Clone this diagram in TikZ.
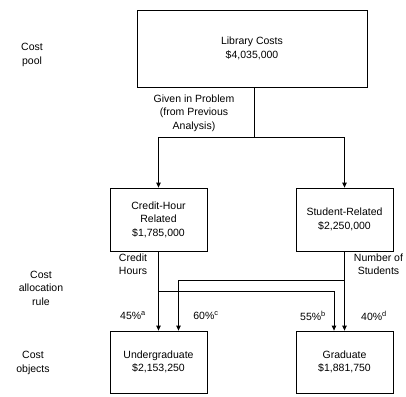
\documentclass[tikz,border=0pt]{standalone}
\usepackage{fontspec}
\setmainfont{Liberation Sans}
\usetikzlibrary{arrows.meta}
\begin{document}
\begin{tikzpicture}[x=1pt,y=-1pt,
        costbox/.style={draw,align=center,inner sep=0pt},
        lbl/.style={align=center,inner sep=0pt},
        arr/.style={-{Triangle[width=4.5pt,length=5pt]}},
        font=\fontsize{10.5}{13.5}\selectfont, line width=0.8pt]
        \useasboundingbox (0,0) rectangle (406,396);
        % Boxes
        \node[costbox,minimum width=230pt,minimum height=77pt] (lib) at (252,48.5) {Library Costs\\\$4,035,000};
        \node[costbox,minimum width=97pt,minimum height=63pt] (credit) at (158.5,219.5) {Credit-Hour\\Related\\\$1,785,000};
        \node[costbox,minimum width=97pt,minimum height=63pt] (student) at (344.5,219.5) {Student-Related\\\$2,250,000};
        \node[costbox,minimum width=97pt,minimum height=62pt] (under) at (158.5,362) {Undergraduate\\\$2,153,250};
        \node[costbox,minimum width=97pt,minimum height=62pt] (grad) at (344.5,362) {Graduate\\\$1,881,750};
        % Labels on the left
        \node[lbl] (pool) at (32,55) {Cost\\pool};
        \node[lbl] (rule) at (41,288) {Cost\\allocation\\rule};
        \node[lbl] (objects) at (33,363) {Cost\\objects};
        % Labels between lines
        \node[lbl] (given) at (194,113) {Given in Problem\\(from Previous\\Analysis)};
        \node[lbl] (hours) at (133,264) {Credit\\Hours};
        \node[lbl] (number) at (378.5,264) {Number of\\Students};
        \node[lbl] (pa) at (133,316) {45\%\textsuperscript{a}};
        \node[lbl] (pc) at (206,316) {60\%\textsuperscript{c}};
        \node[lbl] (pb) at (313,316) {55\%\textsuperscript{b}};
        \node[lbl] (pd) at (374,316) {40\%\textsuperscript{d}};
        % Lines from the pool
        \coordinate (split) at (254,137);
        \draw (lib.south -| split) -- (split);
        \draw[arr] (split) -| (credit);
        \draw[arr] (split) -| (student);
        % Lines to the cost objects
        \coordinate (credj) at (158.5,291);
        \coordinate (studj) at (344.5,280);
        \draw[arr] (credit) -- (under);
        \draw[arr] (student) -- (grad);
        \draw[arr] (credj) -| ([xshift=-10.5pt]grad.north);
        \draw[arr] (studj) -| ([xshift=20pt]under.north);
    \end{tikzpicture}
\end{document}
